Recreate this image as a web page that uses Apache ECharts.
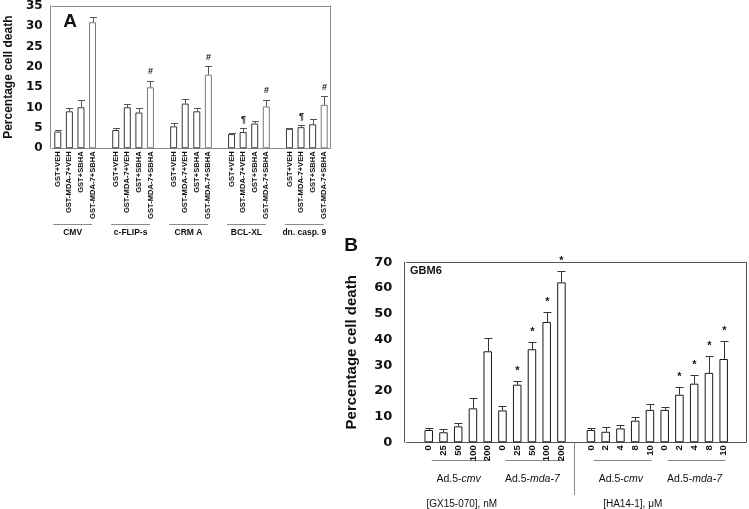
<!DOCTYPE html>
<html><head><meta charset="utf-8">
<script src="https://cdn.jsdelivr.net/npm/echarts@6/dist/echarts.min.js"></script>
<style>html,body{margin:0;padding:0;background:#fff}#c{width:749px;height:509px}</style>
</head><body><div id="c"></div>
<script>
// ---------- Panel A data ----------
const catsA = ['GST+VEH','GST-MDA-7+VEH','GST+SBHA','GST-MDA-7+SBHA','',
  'GST+VEH','GST-MDA-7+VEH','GST+SBHA','GST-MDA-7+SBHA','',
  'GST+VEH','GST-MDA-7+VEH','GST+SBHA','GST-MDA-7+SBHA','',
  'GST+VEH','GST-MDA-7+VEH','GST+SBHA','GST-MDA-7+SBHA','',
  'GST+VEH','GST-MDA-7+VEH','GST+SBHA','GST-MDA-7+SBHA'];
const groupsA = ['CMV','c-FLIP-s','CRM A','BCL-XL','dn. casp. 9'];
const valsA = [4.1,9.1,10.1,31.0,null, 4.5,10.1,8.8,15.0,null, 5.4,11.0,9.1,18.1,null, 3.5,4.0,6.1,10.3,null, 4.8,5.2,5.9,10.7];
const errHighA = [4.5,10.0,11.8,32.4,null, 5.0,10.8,10.0,16.6,null, 6.1,12.2,9.8,20.2,null, 3.8,4.9,6.8,11.9,null, 4.9,5.7,7.3,12.8];
const marksA = ['','','','','', '','','','#','', '','','','#','', '','¶','','#','', '','¶','','#'];
const yTicksA = {min:0, max:35, interval:5};

// ---------- Panel B data ----------
const catsB = ['', '0','25','50','100','200','0','25','50','100','200', '', '0','2','4','8','10','0','2','4','8','10', ''];
const groupsB = ['Ad.5-|cmv','Ad.5-|mda-7','Ad.5-|cmv','Ad.5-|mda-7'];
const drugsB = ['[GX15-070], nM','[HA14-1], μM'];
const valsB = [null, 4.8,3.9,6.2,13.2,35.4, 12.4,22.4,36.2,46.8,62.2, null, 4.8,4.1,5.4,8.4,12.6, 12.6,18.5,22.8,27.0,32.4, null];
const errHighB = [null, 5.4,5.1,7.4,17.2,40.4, 14.0,24.0,38.9,50.8,66.6, null, 5.4,5.8,6.6,10.0,14.8, 13.9,21.4,26.1,33.7,39.3, null];
const marksB = ['', '','','','','', '','*','*','*','*', '', '','','','','', '','*','*','*','*', ''];
const yTicksB = {min:0, max:70, interval:10};

const chart = echarts.init(document.getElementById('c'), null, {renderer:'canvas'});
const SANS = 'Liberation Sans, Arial, sans-serif';
const DEJA = 'DejaVu Sans, sans-serif';

function errSeries(xi, yi, vals, highs, marks, color, capHalf, markFont, markGap) {
  const data = [];
  vals.forEach((v, i) => { if (v != null) data.push([i, v, highs[i]]); });
  return {
    type: 'custom', xAxisIndex: xi, yAxisIndex: yi, z: 3,
    encode: {x: 0, y: [1, 2]},
    data: data,
    renderItem: function (params, api) {
      const i = api.value(0);
      const b = api.coord([i, api.value(1)]);
      const t = api.coord([i, api.value(2)]);
      const x = Math.round(t[0]) + 0.5;
      const yt = Math.round(t[1]) + 0.5;
      const ch = [
        {type:'line', shape:{x1:x, y1:b[1], x2:x, y2:yt}, style:{stroke:color, lineWidth:1}},
        {type:'line', shape:{x1:x-capHalf, y1:yt, x2:x+capHalf, y2:yt}, style:{stroke:color, lineWidth:1}}
      ];
      if (marks[i]) ch.push({type:'text', x: x, y: t[1]-markGap,
        style:{text:marks[i], font:markFont, fill:'#111', align:'center', verticalAlign:'middle'}});
      return {type:'group', children: ch};
    }
  };
}

const greyA = '#8a8a8a';
const greyB = '#555555';

const option = {
  animation: false,
  backgroundColor: '#fff',
  grid: [
    {left: 52, top: 4.7, width: 278, height: 143.6},
    {left: 406.6, top: 262.3, width: 339.2, height: 180}
  ],
  xAxis: [
    {gridIndex:0, type:'category', data:catsA, position:'bottom',
      axisLine:{onZero:false, lineStyle:{color:greyA}}, axisTick:{show:false},
      axisLabel:{interval:0, rotate:90, margin:3, fontFamily:SANS, fontWeight:'bold', fontSize:7.6, color:'#111'}},
    {gridIndex:0, type:'category', data:catsA, position:'top',
      axisLine:{onZero:false, lineStyle:{color:greyA}}, axisTick:{show:false}, axisLabel:{show:false}},
    {gridIndex:1, type:'category', data:catsB, position:'bottom',
      axisLine:{onZero:false, lineStyle:{color:greyB}}, axisTick:{show:false},
      axisLabel:{interval:0, rotate:90, margin:3, fontFamily:SANS, fontWeight:'bold', fontSize:9.5, color:'#111'}},
    {gridIndex:1, type:'category', data:catsB, position:'top',
      axisLine:{onZero:false, lineStyle:{color:greyB}}, axisTick:{show:false}, axisLabel:{show:false}}
  ],
  yAxis: [
    {gridIndex:0, type:'value', min:yTicksA.min, max:yTicksA.max, interval:yTicksA.interval, offset:1.3,
      axisLine:{show:true, onZero:false, lineStyle:{color:greyA}}, axisTick:{show:false}, splitLine:{show:false},
      axisLabel:{margin:8, fontFamily:DEJA, fontWeight:'bold', fontSize:12, color:'#111'},
      name:'Percentage cell death', nameLocation:'middle', nameGap:36,
      nameTextStyle:{fontFamily:SANS, fontWeight:'bold', fontSize:12, color:'#111'}},
    {gridIndex:0, type:'value', position:'right', min:yTicksA.min, max:yTicksA.max, interval:yTicksA.interval,
      axisLine:{show:true, onZero:false, lineStyle:{color:greyA}}, axisTick:{show:false}, splitLine:{show:false}, axisLabel:{show:false}},
    {gridIndex:1, type:'value', min:yTicksB.min, max:yTicksB.max, interval:yTicksB.interval, offset:2.3,
      axisLine:{show:true, onZero:false, lineStyle:{color:greyB}}, axisTick:{show:false}, splitLine:{show:false},
      axisLabel:{margin:12, fontFamily:DEJA, fontWeight:'bold', fontSize:13, color:'#111'},
      name:'Percentage cell death', nameLocation:'middle', nameGap:45,
      nameTextStyle:{fontFamily:SANS, fontWeight:'bold', fontSize:15, color:'#111'}},
    {gridIndex:1, type:'value', position:'right', min:yTicksB.min, max:yTicksB.max, interval:yTicksB.interval,
      axisLine:{show:true, onZero:false, lineStyle:{color:greyB}}, axisTick:{show:false}, splitLine:{show:false}, axisLabel:{show:false}}
  ],
  series: [
    {type:'bar', xAxisIndex:0, yAxisIndex:0, barWidth:7,
      data: valsA.map((v, i) => ({value: v, itemStyle: {borderColor: (i % 5 === 3) ? '#7a7a7a' : '#3a3a3a'}})),
      itemStyle:{color:'#fff', borderWidth:1}},
    errSeries(0, 0, valsA, errHighA, marksA, '#555', 3.5, 'bold 9px ' + SANS, 9),
    {type:'bar', xAxisIndex:2, yAxisIndex:2, barWidth:8.5,
      data: valsB, itemStyle:{color:'#fff', borderColor:'#1a1a1a', borderWidth:1}},
    errSeries(2, 2, valsB, errHighB, marksB, '#333', 4, 'bold 11px ' + SANS, 10)
  ]
};
chart.setOption(option);

// ---------- decorations positioned through the axes ----------
function pxAt(xi, k) {
  const p0 = chart.convertToPixel({xAxisIndex: xi}, 0);
  const p1 = chart.convertToPixel({xAxisIndex: xi}, 1);
  return p0 + (p1 - p0) * k;
}
const g = [];
g.push({type:'text', x:70, y:21.5, style:{text:'A', font:'bold 19px ' + SANS, fill:'#111', align:'center', verticalAlign:'middle'}});
g.push({type:'text', x:351, y:246, style:{text:'B', font:'bold 19px ' + SANS, fill:'#111', align:'center', verticalAlign:'middle'}});
g.push({type:'text', x:410, y:271, style:{text:'GBM6', font:'bold 11px ' + SANS, fill:'#111', align:'left', verticalAlign:'middle'}});

// Panel A groups
groupsA.forEach((name, j) => {
  const x1 = pxAt(0, 5 * j - 0.39), x2 = pxAt(0, 5 * j + 3 - 0.04);
  g.push({type:'line', shape:{x1:x1, y1:224.5, x2:x2, y2:224.5}, style:{stroke:greyA, lineWidth:1}});
  g.push({type:'text', x:(x1 + x2) / 2, y:233, style:{text:name, font:'bold 8.5px ' + SANS, fill:'#111', align:'center', verticalAlign:'middle'}});
});

// Panel B groups
groupsB.forEach((name, j) => {
  const first = 1 + 5 * j + (j >= 2 ? 1 : 0);
  const x1 = pxAt(2, first + 0.2), x2 = pxAt(2, first + 4 + 0.12);
  const parts = name.split('|');
  g.push({type:'line', shape:{x1:x1, y1:460.5, x2:x2, y2:460.5}, style:{stroke:'#888', lineWidth:1}});
  g.push({type:'text', x:(x1 + x2) / 2 - 2, y:479, style:{
    text:'{n|' + parts[0] + '}{i|' + parts[1] + '}', align:'center', verticalAlign:'middle',
    rich:{n:{fontFamily:SANS, fontSize:10.5, fill:'#111'}, i:{fontFamily:SANS, fontSize:10.5, fontStyle:'italic', fill:'#111'}}}});
});
const xd = Math.round(pxAt(2, 11) - 2) + 0.5;
g.push({type:'line', shape:{x1:xd, y1:443, x2:xd, y2:495}, style:{stroke:'#888', lineWidth:1}});
g.push({type:'text', x:pxAt(2, 3.24), y:504, style:{text:drugsB[0], font:'10px ' + SANS, fill:'#111', align:'center', verticalAlign:'middle'}});
g.push({type:'text', x:pxAt(2, 14.83), y:504, style:{text:drugsB[1], font:'10px ' + SANS, fill:'#111', align:'center', verticalAlign:'middle'}});

chart.setOption({graphic: g});
</script>
</body></html>
